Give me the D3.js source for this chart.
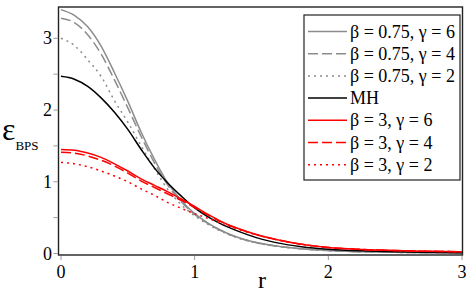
<!DOCTYPE html>
<html>
<head>
<meta charset="utf-8">
<script src="https://cdn.jsdelivr.net/npm/d3@7"></script>
</head>
<body style="margin:0">
<svg id="chart" width="469" height="295"></svg>
<script>
var rValues = [0, 0.1, 0.2, 0.3, 0.4, 0.5, 0.6, 0.7, 0.8, 0.9, 1.0, 1.1, 1.2, 1.3, 1.4, 1.5, 1.6, 1.8, 2.0, 2.25, 2.5, 2.75, 3.0];

var g075_6 = [3.40, 3.32, 3.16, 2.89, 2.52, 2.12, 1.69, 1.31, 0.98, 0.74, 0.555, 0.425, 0.32, 0.24, 0.18, 0.138, 0.107, 0.066, 0.042, 0.025, 0.016, 0.011, 0.008];
var g075_4 = [3.28, 3.22, 3.05, 2.78, 2.42, 2.03, 1.63, 1.26, 0.95, 0.72, 0.545, 0.418, 0.315, 0.236, 0.177, 0.136, 0.105, 0.065, 0.041, 0.025, 0.016, 0.011, 0.008];
var g075_2 = [3.00, 2.90, 2.70, 2.47, 2.13, 1.83, 1.50, 1.18, 0.89, 0.68, 0.525, 0.405, 0.308, 0.232, 0.174, 0.134, 0.104, 0.064, 0.040, 0.024, 0.016, 0.011, 0.008];
var mh     = [2.47, 2.43, 2.33, 2.17, 1.97, 1.73, 1.45, 1.19, 0.98, 0.80, 0.635, 0.51, 0.41, 0.33, 0.26, 0.20, 0.155, 0.095, 0.06, 0.037, 0.024, 0.016, 0.011];
var b3_6   = [1.45, 1.44, 1.40, 1.34, 1.25, 1.15, 1.04, 0.95, 0.86, 0.76, 0.655, 0.545, 0.445, 0.365, 0.30, 0.245, 0.20, 0.13, 0.085, 0.057, 0.041, 0.031, 0.025];
var b3_4   = [1.41, 1.40, 1.36, 1.30, 1.22, 1.12, 1.01, 0.92, 0.83, 0.74, 0.64, 0.535, 0.44, 0.362, 0.298, 0.243, 0.199, 0.129, 0.084, 0.057, 0.041, 0.031, 0.025];
var b3_2   = [1.27, 1.25, 1.21, 1.15, 1.08, 1.00, 0.90, 0.81, 0.71, 0.63, 0.555, 0.49, 0.42, 0.355, 0.294, 0.241, 0.197, 0.128, 0.083, 0.056, 0.040, 0.030, 0.025];

var seriesNames = ["β = 0.75, γ = 6", "β = 0.75, γ = 4", "β = 0.75, γ = 2", "MH", "β = 3, γ = 6", "β = 3, γ = 4", "β = 3, γ = 2"];
var xTicks = [0, 1, 2, 3];
var yTicks = [0, 1, 2, 3];
var yMinorTicks = [0, 0.5, 1, 1.5, 2, 2.5, 3];

var seriesValues = [g075_6, g075_4, g075_2, mh, b3_6, b3_4, b3_2];
var styles = [
  { color: "#8c8c8c", dash: null },
  { color: "#8c8c8c", dash: "10,4" },
  { color: "#8c8c8c", dash: "2,4" },
  { color: "#000000", dash: null },
  { color: "#ff0000", dash: null },
  { color: "#ff0000", dash: "10,4" },
  { color: "#ff0000", dash: "2,4" }
];

var svg = d3.select("#chart");

var x = d3.scaleLinear().domain([0, 3]).range([61, 462]);
var y = d3.scaleLinear().domain([0, 3]).range([253.5, 38.3]);

var frame = { left: 58.5, right: 462.5, top: 7, bottom: 255 };

svg.append("clipPath").attr("id", "plotClip")
  .append("rect")
  .attr("x", frame.left).attr("y", frame.top)
  .attr("width", frame.right - frame.left).attr("height", frame.bottom - frame.top);

// y ticks (every 0.5) and labels
svg.append("g").selectAll("line")
  .data(yMinorTicks)
  .enter().append("line")
  .attr("x1", frame.left - 5).attr("x2", frame.left - 1)
  .attr("y1", function(d) { return y(d); })
  .attr("y2", function(d) { return y(d); })
  .attr("stroke", "#999").attr("stroke-width", 1);

svg.append("g").selectAll("text")
  .data(yTicks)
  .enter().append("text")
  .attr("x", 52)
  .attr("y", function(d) { return y(d) + 6; })
  .attr("text-anchor", "end")
  .attr("font-size", 18)
  .attr("font-family", "Times New Roman")
  .text(function(d) { return d; });

// x ticks and labels
svg.append("g").selectAll("line")
  .data(xTicks)
  .enter().append("line")
  .attr("x1", function(d) { return x(d); })
  .attr("x2", function(d) { return x(d); })
  .attr("y1", frame.bottom + 1).attr("y2", frame.bottom + 5)
  .attr("stroke", "#999").attr("stroke-width", 1);

svg.append("g").selectAll("text")
  .data(xTicks)
  .enter().append("text")
  .attr("x", function(d) { return x(d); })
  .attr("y", 278)
  .attr("text-anchor", "middle")
  .attr("font-size", 18)
  .attr("font-family", "Times New Roman")
  .text(function(d) { return d; });

// curves
var line = d3.line()
  .x(function(d) { return x(d[0]); })
  .y(function(d) { return y(d[1]); })
  .curve(d3.curveMonotoneX);

var curves = svg.append("g").attr("clip-path", "url(#plotClip)");
seriesValues.forEach(function(vals, i) {
  var pts = rValues.map(function(r, j) { return [r, vals[j]]; });
  curves.append("path")
    .attr("d", line(pts))
    .attr("fill", "none")
    .attr("stroke", styles[i].color)
    .attr("stroke-width", 1.5)
    .attr("stroke-dasharray", styles[i].dash);
});

// frame
svg.append("rect")
  .attr("x", frame.left).attr("y", frame.top)
  .attr("width", frame.right - frame.left).attr("height", frame.bottom - frame.top)
  .attr("fill", "none").attr("stroke", "#222").attr("stroke-width", 1.4);

// legend
var legend = svg.append("g");
legend.append("rect")
  .attr("x", 304).attr("y", 15).attr("width", 156).attr("height", 165)
  .attr("fill", "#fff").attr("stroke", "#222").attr("stroke-width", 1.2);

var rows = legend.selectAll("g.row")
  .data(seriesNames)
  .enter().append("g")
  .attr("class", "row")
  .attr("transform", function(d, i) { return "translate(0," + (31.5 + i * 22.2) + ")"; });

rows.append("line")
  .attr("x1", 308).attr("x2", 347).attr("y1", 0).attr("y2", 0)
  .attr("stroke", function(d, i) { return styles[i].color; })
  .attr("stroke-width", 1.5)
  .attr("stroke-dasharray", function(d, i) { return styles[i].dash; });

rows.append("text")
  .attr("x", 350).attr("y", 6)
  .attr("font-size", 18)
  .attr("font-family", "Times New Roman")
  .text(function(d) { return d; });

// axis titles
var ylab = svg.append("text").attr("x", 2).attr("y", 140)
  .attr("font-family", "Times New Roman");
ylab.append("tspan").attr("font-size", 32).text("ε");
ylab.append("tspan").attr("dy", 10).attr("font-size", 13).text("BPS");

svg.append("text")
  .attr("x", 262).attr("y", 288)
  .attr("text-anchor", "middle")
  .attr("font-size", 24)
  .attr("font-family", "Times New Roman")
  .text("r");
</script>
</body>
</html>
